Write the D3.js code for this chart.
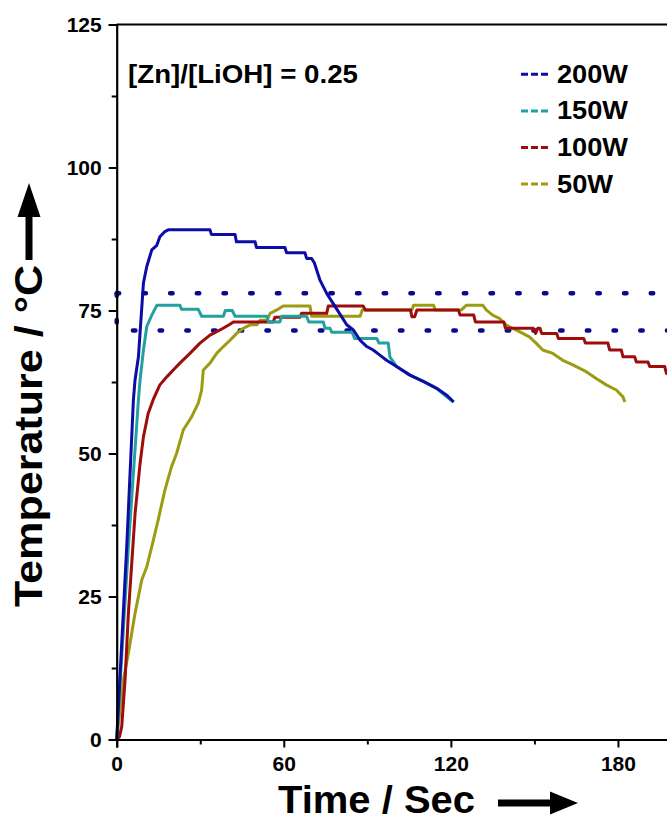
<!DOCTYPE html>
<html>
<head>
<meta charset="utf-8">
<script src="https://cdnjs.cloudflare.com/ajax/libs/d3/7.8.5/d3.min.js"></script>
<style>
  body { margin: 0; background: #fff; }
  svg { display: block; font-family: "Liberation Sans", Arial, sans-serif; font-weight: bold; }
</style>
</head>
<body>
<div id="chart"></div>
<script>
// series names + colours
var seriesNames = ["200W", "150W", "100W", "50W"];
var seriesColors = ["#0c0ca6", "#22a19e", "#9e0c0c", "#9c9c12"];

// time (s) and temperature (°C)
var t200 = [0, 3.6, 6, 6.6, 7.8, 9.6, 10.8, 12.6, 14.4, 15.5, 17.3, 18.5, 33.5, 34, 42.5, 43, 49.7, 50.2, 60.4, 61, 67.6, 68.2, 70, 71, 73, 75.4, 80, 82.6, 85, 87.4, 89.8, 92.1, 94.5, 96.9, 100.5, 105.3, 110.1, 114.9, 118.5, 121];
var v200 = [0, 33.7, 59.4, 62.9, 66.9, 79.8, 82.7, 85.6, 86.4, 87.9, 88.8, 89.1, 89.1, 88.3, 88.3, 87.0, 87.0, 86.0, 86.0, 85.1, 85.1, 84.1, 84.1, 83.3, 80.3, 78.0, 74.5, 72.5, 71.6, 69.8, 68.7, 68.1, 67.2, 66.3, 65.2, 63.7, 62.6, 61.4, 60.2, 59.0];

var t150 = [0, 4.2, 7.8, 8.4, 9.6, 10.8, 12.6, 14.4, 22.7, 23.3, 29.3, 30.5, 38.3, 39, 41.5, 42.5, 53.9, 54.5, 58.6, 59.2, 68.2, 69, 74.2, 74.8, 76.6, 77.2, 84.5, 85.5, 93.4, 94.2, 97.5, 98.1, 100.5, 105.3, 110.1, 114.9, 119.1, 121];
var v150 = [0, 33.7, 59.4, 62.9, 68.1, 72.2, 74.2, 75.9, 75.9, 75.2, 75.2, 74.0, 74.0, 75.0, 75.0, 74.0, 74.0, 73.0, 73.0, 74.0, 74.0, 73.0, 73.0, 71.9, 71.9, 71.2, 71.2, 70.1, 70.1, 69.3, 69.3, 66.9, 65.2, 63.7, 62.6, 61.4, 59.7, 59.0];

var t100 = [0, 1, 1.8, 3, 4.2, 5.4, 6.6, 8.4, 9.6, 11.3, 13.1, 15.5, 18, 20.3, 22.7, 26.3, 29.9, 33.5, 37.1, 40.7, 41.9, 56.2, 56.8, 65.8, 66.4, 75.4, 76, 88.5, 89.3, 105.5, 106, 107, 107.8, 122.7, 123.3, 128.2, 128.8, 139, 139.6, 149.6, 150.4, 151.2, 152, 152.6, 158, 158.6, 167.7, 168.3, 176.4, 177, 181.2, 181.8, 186, 186.6, 190.8, 191.4, 196.8, 197.4, 205];
var v100 = [0, 0.5, 2.2, 10.4, 22.1, 30.8, 39.5, 48.3, 52.9, 57.0, 59.4, 62.0, 63.4, 64.6, 65.8, 67.5, 69.3, 70.7, 71.6, 72.6, 73.0, 73.0, 73.8, 73.8, 74.5, 74.5, 75.8, 75.8, 75.1, 75.1, 73.9, 73.9, 75.1, 75.1, 74.2, 74.2, 73.0, 73.0, 71.9, 71.9, 71.0, 71.9, 71.9, 71.0, 71.0, 70.1, 70.1, 69.3, 69.3, 68.1, 68.1, 66.9, 66.9, 66.0, 66.0, 65.2, 65.2, 64.0, 63.0];

var t50 = [0, 2.4, 4.2, 6.6, 9, 10.8, 12.6, 14.9, 17.3, 19.7, 21.5, 23.9, 26.9, 29.3, 30.5, 31.1, 33.5, 35.9, 38.3, 40.7, 43.1, 45.5, 47.9, 50.3, 51.5, 53.9, 55.1, 57.5, 59.8, 69.4, 70, 87.4, 88.2, 106, 106.6, 113.8, 114.4, 123.8, 125.5, 131.5, 132.7, 135, 137.5, 139.8, 142.2, 144.6, 148.2, 150.6, 153, 156.6, 160.2, 163.8, 168.6, 172.2, 175.8, 179.4, 181.8, 182.5];
var v50 = [0, 10.4, 15.1, 22.1, 27.9, 30.2, 33.7, 38.4, 43.6, 47.7, 50.0, 54.1, 56.4, 58.8, 61.1, 64.6, 65.8, 67.5, 68.7, 69.8, 71.0, 71.9, 72.5, 72.5, 73.3, 73.3, 74.5, 75.1, 75.8, 75.8, 74.0, 74.0, 75.1, 75.1, 75.9, 75.9, 75.1, 75.1, 75.9, 75.9, 75.1, 74.2, 73.6, 72.5, 71.9, 71.3, 70.4, 69.3, 68.1, 67.5, 66.3, 65.5, 64.3, 63.1, 62.0, 61.1, 59.9, 59.0];

// dotted guide levels (°C)
var guideLevels = [78.0, 71.5];

// axis ticks
var xTicks = [0, 60, 120, 180];
var xMinor = [30, 90, 150, 210];
var yTicks = [0, 25, 50, 75, 100, 125];
var yMinor = [12.5, 37.5, 62.5, 87.5, 112.5];

var width = 667, height = 822;

var x = d3.scaleLinear().domain([0, 210]).range([116.7, 701.5]);
var y = d3.scaleLinear().domain([0, 125]).range([739.5, 24.5]);

var svg = d3.select("#chart").append("svg")
    .attr("width", width)
    .attr("height", height);

var series = [
  d3.zip(t200, v200),
  d3.zip(t150, v150),
  d3.zip(t100, v100),
  d3.zip(t50, v50)
];

var line = d3.line()
    .x(function(d) { return x(d[0]); })
    .y(function(d) { return y(d[1]); });

// dotted guide, drawn as one path: along top level, then down and along the lower one
var x0 = x(0), xEnd = x(210);
svg.append("path")
    .attr("d", "M" + x0 + "," + y(guideLevels[0]) + "H" + xEnd)
    .attr("fill", "none")
    .attr("stroke", "#0a0a8c")
    .attr("stroke-width", 4.5)
    .attr("stroke-linecap", "round")
    .attr("stroke-dasharray", "2.5,24.2");
svg.append("path")
    .attr("d", "M" + x0 + "," + y(guideLevels[0]) + "V" + y(guideLevels[1]) + "H" + xEnd)
    .attr("fill", "none")
    .attr("stroke", "#0a0a8c")
    .attr("stroke-width", 4.5)
    .attr("stroke-linecap", "round")
    .attr("stroke-dasharray", "2.5,24.2");

// curves (draw 50W first so 200W sits on top)
svg.selectAll("path.curve")
    .data(series.map(function(d, i) { return { pts: d, i: i }; }).reverse())
  .enter().append("path")
    .attr("class", "curve")
    .attr("d", function(d) { return line(d.pts); })
    .attr("fill", "none")
    .attr("stroke", function(d) { return seriesColors[d.i]; })
    .attr("stroke-width", 3)
    .attr("stroke-linejoin", "round");

// frame: top line and right line
svg.append("line")
    .attr("x1", x(0)).attr("x2", x(210))
    .attr("y1", y(125)).attr("y2", y(125))
    .attr("stroke", "#000").attr("stroke-width", 2.2);
svg.append("line")
    .attr("x1", x(210)).attr("x2", x(210))
    .attr("y1", y(125)).attr("y2", y(0))
    .attr("stroke", "#000").attr("stroke-width", 2.2);

// x axis
var gx = svg.append("g")
    .attr("transform", "translate(0," + y(0) + ")")
    .call(d3.axisBottom(x).tickValues(xTicks).tickSize(8).tickPadding(9));
svg.append("g")
    .attr("transform", "translate(0," + y(0) + ")")
    .call(d3.axisBottom(x).tickValues(xMinor).tickSize(5).tickFormat(""))
    .select(".domain").remove();

// y axis
var gy = svg.append("g")
    .attr("transform", "translate(" + x(0) + ",0)")
    .call(d3.axisLeft(y).tickValues(yTicks).tickSize(8).tickPadding(7));
svg.append("g")
    .attr("transform", "translate(" + x(0) + ",0)")
    .call(d3.axisLeft(y).tickValues(yMinor).tickSize(5).tickFormat(""))
    .select(".domain").remove();

svg.selectAll(".domain").attr("stroke-width", 2.2);
svg.selectAll(".tick line").attr("stroke-width", 2);
svg.selectAll(".tick text")
    .style("font-size", "21px")
    .style("font-weight", "bold")
    .style("font-family", "'Liberation Sans', Arial, sans-serif")
    .attr("fill", "#000");

// annotation
svg.append("text")
    .attr("x", 128)
    .attr("y", 83)
    .attr("textLength", 230)
    .attr("lengthAdjust", "spacingAndGlyphs")
    .style("font-size", "25px")
    .text("[Zn]/[LiOH] = 0.25");

// legend
var legend = svg.selectAll("g.legend")
    .data(seriesNames)
  .enter().append("g")
    .attr("class", "legend")
    .attr("transform", function(d, i) { return "translate(521," + (74.3 + 36.6 * i) + ")"; });
legend.append("line")
    .attr("x1", 0).attr("x2", 27.5)
    .attr("stroke", function(d, i) { return seriesColors[i]; })
    .attr("stroke-width", 3)
    .attr("stroke-dasharray", "7,3");
legend.append("text")
    .attr("x", 36)
    .attr("y", 8.5)
    .style("font-size", "25px")
    .attr("textLength", function(d) { return d.length === 4 ? 71 : 56; })
    .attr("lengthAdjust", "spacingAndGlyphs")
    .text(function(d) { return d; });

// y title with arrow
svg.append("text")
    .attr("transform", "translate(42,607) rotate(-90)")
    .attr("textLength", 342)
    .attr("lengthAdjust", "spacingAndGlyphs")
    .style("font-size", "39px")
    .text("Temperature / °C");
svg.append("rect")
    .attr("x", 25.5).attr("y", 215).attr("width", 7).attr("height", 45)
    .attr("fill", "#000");
svg.append("path")
    .attr("d", "M29,183L40.5,217L17.5,217Z")
    .attr("fill", "#000");

// x title with arrow
svg.append("text")
    .attr("x", 278)
    .attr("y", 813)
    .attr("textLength", 197)
    .attr("lengthAdjust", "spacingAndGlyphs")
    .style("font-size", "38px")
    .text("Time / Sec");
svg.append("rect")
    .attr("x", 498).attr("y", 799.5).attr("width", 54).attr("height", 7)
    .attr("fill", "#000");
svg.append("path")
    .attr("d", "M578,803L550,791.5L550,814.5Z")
    .attr("fill", "#000");
</script>
</body>
</html>
